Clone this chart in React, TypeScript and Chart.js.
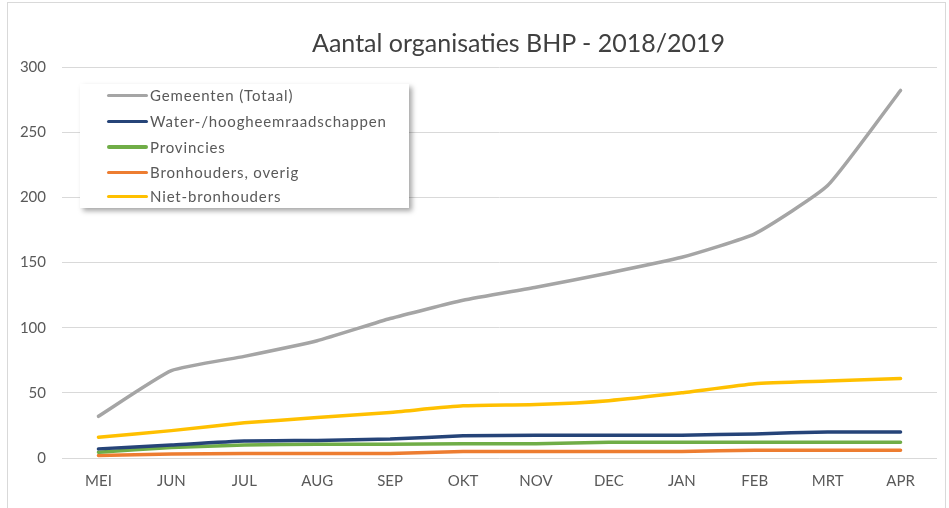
import React, { useEffect, useRef } from "react";
import { Chart, registerables } from "chart.js";

Chart.register(...registerables);

const months = ["MEI", "JUN", "JUL", "AUG", "SEP", "OKT", "NOV", "DEC", "JAN", "FEB", "MRT", "APR"];
const gemeenten = [32, 67, 78, 90, 107, 121, 131, 142, 154, 172, 209, 282];
const water = [7, 10, 13, 13.5, 14.5, 17, 17.5, 17.5, 17.5, 18.5, 20, 20];
const provincies = [4.5, 8, 10, 10.5, 10.5, 11, 11, 12, 12, 12, 12, 12];
const overig = [2, 3, 3.5, 3.5, 3.5, 5, 5, 5, 5, 6, 6, 6];
const nietBronhouders = [16, 21, 27, 31, 35, 40, 41, 44, 50, 57, 59, 61];

const titleText = "Aantal organisaties BHP - 2018/2019";
const seriesNames = [
  "Gemeenten (Totaal)",
  "Water-/hoogheemraadschappen",
  "Provincies",
  "Bronhouders, overig",
  "Niet-bronhouders",
];
const seriesColors = ["#a5a5a5", "#264478", "#70ad47", "#ed7d31", "#ffc000"];
const seriesValues = [gemeenten, water, provincies, overig, nietBronhouders];

const FONT = "Lato, 'Open Sans', sans-serif";

export default function App() {
  const ref = useRef<HTMLCanvasElement | null>(null);

  useEffect(() => {
    if (!ref.current) return;
    const chart = new Chart(ref.current, {
      type: "line",
      data: {
        labels: months,
        datasets: seriesNames.map((name, i) => ({
          label: name,
          data: seriesValues[i],
          borderColor: seriesColors[i],
          backgroundColor: seriesColors[i],
          borderWidth: 3.5,
          pointRadius: 0,
          tension: 0.15,
          borderCapStyle: "round" as const,
          fill: false,
        })),
      },
      options: {
        animation: false,
        responsive: false,
        maintainAspectRatio: false,
        layout: { padding: { top: 64, right: 8, bottom: 0, left: 0 } },
        plugins: {
          legend: { display: false },
          tooltip: { enabled: false },
          title: { display: false },
        },
        scales: {
          x: {
            offset: true,
            grid: { display: false, drawTicks: false },
            border: { display: false },
            ticks: {
              color: "#595959",
              font: { family: FONT, size: 15 },
              padding: 14,
              maxRotation: 0,
            },
            afterFit: (s: any) => {
              s.height = 50;
            },
          },
          y: {
            min: 0,
            max: 300,
            grid: { color: "#d9d9d9", lineWidth: 1, drawTicks: false },
            border: { display: false },
            ticks: {
              stepSize: 50,
              color: "#595959",
              font: { family: FONT, size: 15 },
              padding: 16,
            },
            afterFit: (s: any) => {
              s.width = 54;
            },
          },
        },
      },
    });
    return () => chart.destroy();
  }, []);

  const rowCenters = [11, 37, 62.5, 88, 112];

  return (
    <div>
      <div
        style={{
          position: "absolute",
          left: 7,
          top: 2,
          width: 937,
          height: 520,
          border: "1px solid #d9d9d9",
          background: "#fff",
          overflow: "hidden",
        }}
      >
        <canvas ref={ref} width={937} height={505} style={{ display: "block" }} />
      </div>
      <div
        style={{
          position: "absolute",
          left: 312,
          top: 27,
          lineHeight: "30px",
          fontSize: 25,
          fontFamily: FONT,
          color: "#404040",
          whiteSpace: "nowrap",
        }}
      >
        {titleText}
      </div>
      <div
        style={{
          position: "absolute",
          left: 80,
          top: 84,
          width: 329,
          height: 124,
          background: "#fff",
          boxShadow: "3px 3px 5px rgba(0,0,0,0.35)",
          fontFamily: FONT,
        }}
      >
        {seriesNames.map((name, i) => (
          <div
            key={name}
            style={{
              position: "absolute",
              left: 0,
              top: rowCenters[i] - 10,
              height: 20,
            }}
          >
            <div
              style={{
                position: "absolute",
                left: 27,
                top: 8.5,
                width: 41,
                height: 3.5,
                borderRadius: 2,
                background: seriesColors[i],
              }}
            />
            <span
              style={{
                position: "absolute",
                left: 70,
                top: 0,
                lineHeight: "20px",
                whiteSpace: "nowrap",
                fontSize: 15,
                letterSpacing: 0.85,
                color: "#595959",
              }}
            >
              {name}
            </span>
          </div>
        ))}
      </div>
    </div>
  );
}
